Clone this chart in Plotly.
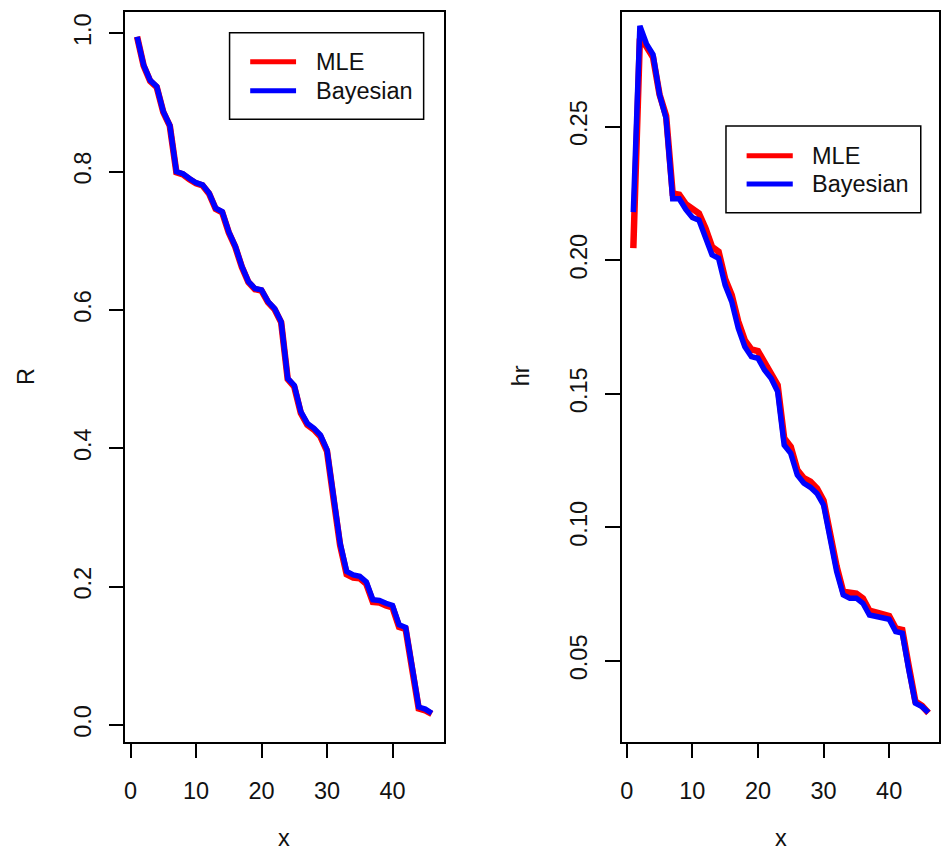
import plotly.graph_objects as go

W, H = 941, 853

x_vals = list(range(1, 47))

R_mle = [0.995, 0.953, 0.931, 0.922, 0.886, 0.866, 0.799, 0.796, 0.789, 0.783,
         0.780, 0.768, 0.746, 0.741, 0.712, 0.691, 0.662, 0.640, 0.630, 0.628,
         0.611, 0.601, 0.582, 0.500, 0.489, 0.451, 0.434, 0.427, 0.417, 0.396,
         0.327, 0.260, 0.218, 0.213, 0.212, 0.204, 0.178, 0.177, 0.173, 0.170,
         0.142, 0.139, 0.081, 0.024, 0.021, 0.016]
R_bayes = [0.995, 0.954, 0.932, 0.923, 0.887, 0.867, 0.800, 0.797, 0.790, 0.784,
           0.781, 0.769, 0.747, 0.742, 0.713, 0.692, 0.663, 0.641, 0.631, 0.629,
           0.612, 0.602, 0.583, 0.501, 0.491, 0.453, 0.436, 0.429, 0.419, 0.398,
           0.330, 0.263, 0.222, 0.217, 0.215, 0.207, 0.181, 0.180, 0.176, 0.173,
           0.145, 0.141, 0.084, 0.026, 0.023, 0.017]

hr_mle = [0.2045, 0.283, 0.280, 0.276, 0.262, 0.254, 0.225, 0.2245, 0.221, 0.219,
          0.2175, 0.212, 0.205, 0.2032, 0.193, 0.187, 0.177, 0.170, 0.1666, 0.166,
          0.1614, 0.1577, 0.1533, 0.1333, 0.1302, 0.1215, 0.1184, 0.1171, 0.1146, 0.110,
          0.0972, 0.0853, 0.0759, 0.0754, 0.0752, 0.0734, 0.0688, 0.0682, 0.0672, 0.0668,
          0.0622, 0.0616, 0.0479, 0.0348, 0.0332, 0.0305]
hr_bayes = [0.218, 0.2877, 0.281, 0.277, 0.262, 0.253, 0.223, 0.223, 0.219, 0.216,
            0.215, 0.209, 0.202, 0.2007, 0.1907, 0.1845, 0.1745, 0.1676, 0.1639, 0.1633,
            0.1589, 0.1558, 0.1508, 0.1308, 0.1277, 0.1196, 0.1165, 0.115, 0.1127, 0.1084,
            0.0953, 0.0834, 0.0747, 0.0735, 0.0735, 0.0716, 0.0672, 0.0668, 0.066, 0.0656,
            0.061, 0.0604, 0.0466, 0.0342, 0.0329, 0.0307]

x_ticks = [0, 10, 20, 30, 40]
R_ticks = [0.0, 0.2, 0.4, 0.6, 0.8, 1.0]
hr_ticks = [0.05, 0.10, 0.15, 0.20, 0.25]
series_names = ["MLE", "Bayesian"]
series_colors = ["#ff0000", "#0000ff"]

FONT = "Liberation Sans, Arial, Helvetica, sans-serif"
FS = 23.5


def px(xp):
    return xp / W


def py(yp):
    return 1 - yp / H


fig = go.Figure()
fig.add_trace(go.Scatter(x=x_vals, y=R_mle, mode="lines", name="MLE",
                         line=dict(color=series_colors[0], width=6.5),
                         xaxis="x", yaxis="y", showlegend=False))
fig.add_trace(go.Scatter(x=x_vals, y=R_bayes, mode="lines", name="Bayesian",
                         line=dict(color=series_colors[1], width=5.5),
                         xaxis="x", yaxis="y", showlegend=False))
fig.add_trace(go.Scatter(x=x_vals, y=hr_mle, mode="lines", name="MLE",
                         line=dict(color=series_colors[0], width=6.5),
                         xaxis="x2", yaxis="y2", showlegend=False))
fig.add_trace(go.Scatter(x=x_vals, y=hr_bayes, mode="lines", name="Bayesian",
                         line=dict(color=series_colors[1], width=5.5),
                         xaxis="x2", yaxis="y2", showlegend=False))

ydom = [py(741.6), py(11.5)]
common_axis = dict(showline=True, mirror=True, linecolor="black", linewidth=1.5,
                   ticks="outside", ticklen=15, tickwidth=1.5, tickcolor="black",
                   showgrid=False, zeroline=False,
                   tickfont=dict(family=FONT, size=FS, color="#111"))

fig.update_layout(
    width=W, height=H,
    margin=dict(l=0, r=0, t=0, b=0),
    paper_bgcolor="white", plot_bgcolor="white",
    font=dict(family=FONT, size=FS, color="#111"),
    xaxis=dict(domain=[px(124.7), px(444)], range=[-0.8, 47.8],
               tickvals=x_ticks, ticklabelstandoff=12, anchor="y", **common_axis),
    yaxis=dict(domain=ydom, range=[-0.024, 1.0315], tickvals=R_ticks,
               tickformat=".1f", tickangle=-90, ticklabelstandoff=8, anchor="x", **common_axis),
    xaxis2=dict(domain=[px(622.5), 1.0], range=[-0.8, 47.6],
                tickvals=x_ticks, ticklabelstandoff=12, anchor="y2", **common_axis),
    yaxis2=dict(domain=ydom, range=[0.0198, 0.2931], tickvals=hr_ticks,
                tickformat=".2f", tickangle=-90, ticklabelstandoff=8, anchor="x2", **common_axis),
)

annotations = [
    dict(text="x", x=px(284.4), y=0, xref="paper", yref="paper",
         showarrow=False, xanchor="center", yanchor="bottom", font=dict(size=FS)),
    dict(text="x", x=px(782), y=0, xref="paper", yref="paper",
         showarrow=False, xanchor="center", yanchor="bottom", font=dict(size=FS)),
    dict(text="R", x=px(25), y=py(376), xref="paper", yref="paper", textangle=-90,
         showarrow=False, xanchor="center", yanchor="middle", font=dict(size=FS)),
    dict(text="hr", x=px(522), y=py(376), xref="paper", yref="paper", textangle=-90,
         showarrow=False, xanchor="center", yanchor="middle", font=dict(size=FS)),
]
shapes = []


def add_legend(bx0, bx1, by0, by1, lx0, lx1, ly, tx):
    shapes.append(dict(type="rect", xref="paper", yref="paper",
                       x0=px(bx0), x1=px(bx1), y0=py(by1), y1=py(by0),
                       line=dict(color="black", width=1.5), fillcolor="white"))
    for name, col, yy in zip(series_names, series_colors, ly):
        shapes.append(dict(type="line", xref="paper", yref="paper",
                           x0=px(lx0), x1=px(lx1), y0=py(yy), y1=py(yy),
                           line=dict(color=col, width=5)))
        annotations.append(dict(text=name, x=px(tx), y=py(yy), xref="paper", yref="paper",
                                showarrow=False, xanchor="left", yanchor="middle",
                                font=dict(size=FS)))


add_legend(229.3, 424, 32.7, 119.3, 250, 296, [61.7, 90.7], 314)
add_legend(727.3, 922.7, 126, 212.7, 748, 794.3, [155.7, 184], 812)

fig.update_layout(annotations=annotations, shapes=shapes)
fig.write_html("out.html")
